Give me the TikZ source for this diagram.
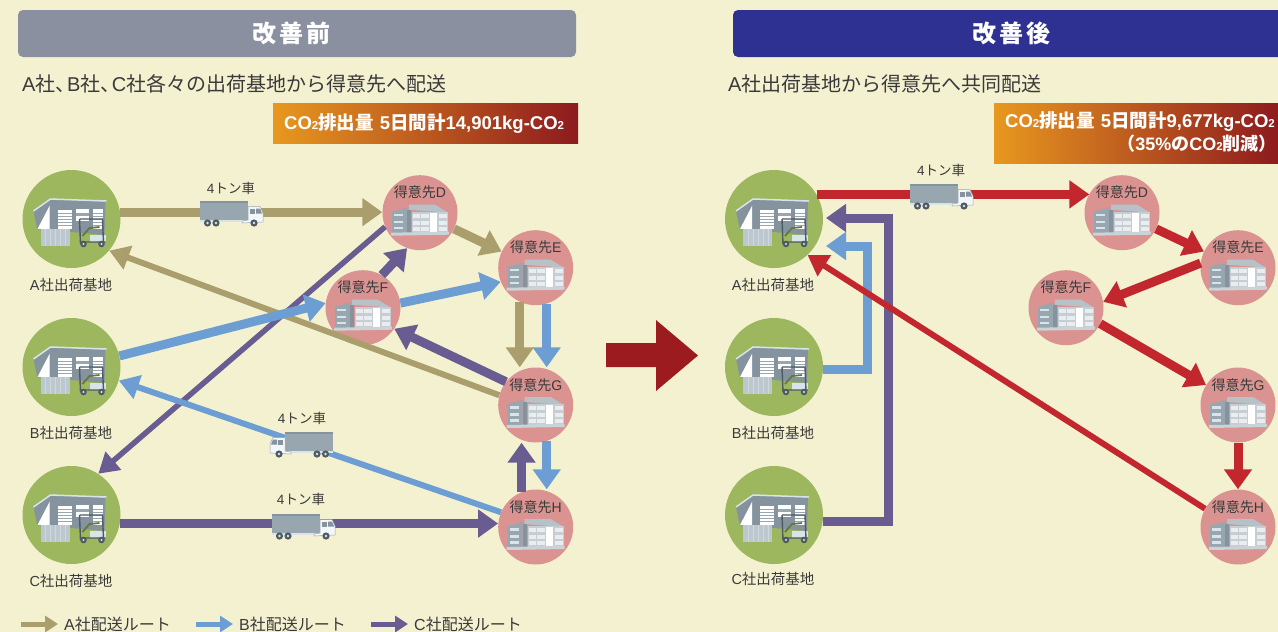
\documentclass[tikz,border=0pt]{standalone}
\usepackage{fontspec}
\setmainfont{Noto Sans CJK JP}
\newfontfamily\latf{Liberation Sans}
\usetikzlibrary{arrows.meta,calc}
\definecolor{bgc}{HTML}{F4F1D1}
\definecolor{tanc}{HTML}{A99E6C}
\definecolor{bluec}{HTML}{6C9DD3}
\definecolor{purc}{HTML}{685C90}
\definecolor{redc}{HTML}{C1272D}
\definecolor{darkred}{HTML}{9B1B1E}
\definecolor{greenc}{HTML}{9DB75E}
\definecolor{pinkc}{HTML}{DA9390}
\definecolor{txtc}{HTML}{3A3A3A}
\definecolor{steel}{HTML}{98A6B0}
\definecolor{steeld}{HTML}{84939E}
\definecolor{pale}{HTML}{D9E4EA}
\definecolor{dk}{HTML}{4E5A64}
\definecolor{orangec}{HTML}{E8981F}
\definecolor{endred}{HTML}{8E1A1E}
\definecolor{hgrey}{HTML}{8A909F}
\definecolor{hblue}{HTML}{2E3191}
\newcommand{\lt}[1]{{\latf #1}}
\newcommand{\cotwo}{{\latf\fontsize{11.5}{12}\selectfont 2}}
\tikzset{
  route/.style={line width=9pt,-{Triangle[length=20pt,width=27pt]}},
  routethin/.style={line width=6pt,-{Triangle[length=20pt,width=24pt]}},
  routeslim/.style={line width=5.5pt,-{Triangle[length=20pt,width=23pt]}},
  routeleg/.style={line width=5pt,-{Triangle[length=13pt,width=16pt]}},
  depot/.style={circle,fill=greenc,minimum size=98pt,inner sep=0pt},
  dest/.style={circle,fill=pinkc,minimum size=75pt,inner sep=0pt},
  lab/.style={text=txtc,font=\fontsize{14.5}{15}\selectfont,inner sep=0pt},
  destlab/.style={text=txtc,font=\fontsize{14}{15}\selectfont,inner sep=0pt},
  trucklab/.style={text=txtc,font=\fontsize{13.5}{14}\selectfont,inner sep=0pt},
  sub/.style={text=txtc,font=\fontsize{20}{21}\selectfont,anchor=west,inner sep=0pt},
  leg/.style={text=txtc,font=\fontsize{16}{17}\selectfont,anchor=west,inner sep=0pt},
  headtxt/.style={text=white,inner sep=0pt,font=\fontsize{24}{26}\bfseries\selectfont},
  co/.style={text=white,font=\fontsize{18.5}{20}\bfseries\selectfont,anchor=west,inner sep=0pt},
  cosmall/.style={text=white,font=\fontsize{18}{20}\bfseries\selectfont,anchor=east,inner sep=0pt},
  warehouse/.pic={
    \fill[steeld] (-22,-20) -- (34,-17) -- (33,16) -- (-22,11) -- cycle;
    \fill[steeld] (-38,-8) -- (-22,-20) -- (-22,11) -- (-34,11) -- cycle;
    \fill[white] (-34,10) -- (-22,-13) -- (-22,10) -- cycle;
    \draw[pale,line width=1.5pt] (-38,-8) -- (-21,-20) -- (35,-18);
    \fill[white] (-14,-9) rectangle (0,10);
    \fill[white] (4,-10) rectangle (17,10);
    \fill[white] (21,-10) rectangle (31,10);
    \foreach \yy in {-6,-3,0,3,6}{
      \draw[steel,line width=.9pt] (-14,\yy) -- (0,\yy);
      \draw[steel,line width=.9pt] (21,\yy) -- (31,\yy);
    }
    \fill[steel] (4,-6) rectangle (17,-3);
    \fill[steeld] (4,2) rectangle (17,10);
    \fill[pale!55!steel] (-31,10) -- (-2,10) -- (-2,27) -- (-31,27) -- cycle;
    \foreach \xx in {-26,-21,-16,-11,-6}{\draw[white!55!steel,line width=.7pt] (\xx,10) -- (\xx,27);}
    \fill[pale] (18,16) rectangle (34,23);
    \draw[dk,line width=1.4pt] (8,0) -- (9,25) (8,0) -- (31,0) -- (32,24) (9,23) -- (34,23);
    \draw[greenc!65!black,line width=1.8pt] (11,17) -- (18,9) -- (28,8);
    \fill[dk] (12,25) circle (3.3pt) (30,25) circle (3.3pt);
    \fill[pale] (12,25) circle (1.1pt) (30,25) circle (1.1pt);
  },
  office/.pic={
    \fill[steel] (-28,-1) -- (-13,-5) -- (-13,20) -- (-28,22) -- cycle;
    \fill[steel!70] (-11,-8) -- (15,-8) -- (28,0) -- (-11,-3) -- cycle;
    \fill[steeld] (-13,-3) -- (-9,-3) -- (-9,20) -- (-13,20) -- cycle;
    \fill[steel!55] (-8,-1) rectangle (28,20);
    \fill[white] (10,0) rectangle (17,19);
    \foreach \yy in {1,8,14}{
      \fill[white!80!steel] (-7,\yy) rectangle (0,\yy+4);
      \fill[white!80!steel] (1,\yy) rectangle (9,\yy+4);
      \fill[white!80!steel] (19,\yy) rectangle (27,\yy+4);
      \fill[pale] (-26,\yy) rectangle (-17,\yy+2.5);
    }
    \fill[steel!50] (-29,20) -- (29,19) -- (29,22) -- (-29,23) -- cycle;
  },
  truck/.pic={
    \fill[steel] (0,0) rectangle (48,20);
    \fill[steeld] (0,0) rectangle (48,1.5);
    \fill[pale] (0,19) rectangle (46,21);
    \fill[white!70!pale,draw=steel,line width=.5pt] (48,5.5) -- (60,5.5) -- (63,12) -- (63,21) -- (42,22) -- (42,20) -- (48,19) -- cycle;
    \fill[steeld] (50,7.5) rectangle (55,12.5);
    \fill[steeld] (56,7.5) -- (60,7.5) -- (62,12.5) -- (56,12.5) -- cycle;
    \foreach \xx in {7.5,16,54}{
      \fill[dk] (\xx,22) circle (3.6pt);
      \fill[pale] (\xx,22) circle (1.3pt);
    }
  }
}
\begin{document}
\begin{tikzpicture}[x=1pt,y=-1pt]
\useasboundingbox (0,0) rectangle (1278,632);
\clip (0,0) rectangle (1278,632);
\fill[bgc] (0,0) rectangle (1278,632);

% headers
\fill[rounded corners=5pt,hgrey] (18,10) rectangle (576,57);
\fill[rounded corners=5pt,hblue] (733,10) rectangle (1300,57);
\node[headtxt] (hl) at (291,33) {改\hspace{3pt}善\hspace{3pt}前};
\node[headtxt] (hr) at (1011,33) {改\hspace{3pt}善\hspace{3pt}後};
\node[sub] (sl) at (22,84) {\lt{A}社、\hspace{-8.5pt}\lt{B}社、\hspace{-8.5pt}\lt{C}社各々の出荷基地から得意先へ配送};
\node[sub] (sr) at (728,84) {\lt{A}社出荷基地から得意先へ共同配送};

% badges
\shade[left color=orangec,right color=endred] (273,103) rectangle (578,143);
\node[co] (bl) at (284,123.5) {\lt{CO}\cotwo{}排出量\hspace{6pt}\lt{5}日間計\lt{14,901kg-CO}\cotwo};
\shade[left color=orangec,right color=endred] (994,103) rectangle (1278,163);
\node[co] (br) at (1005,122) {\lt{CO}\cotwo{}排出量\hspace{6pt}\lt{5}日間計\lt{9,677kg-CO}\cotwo};
\node[cosmall] (br2) at (1277,144) {（\lt{35\%}の\lt{CO}\cotwo{}削減）};

% left nodes
\node[depot] (A) at (71.5,219) {};
\node[depot] (B) at (71.5,367) {};
\node[depot] (C) at (71.5,515) {};
\node[dest] (D) at (420,212.7) {};
\node[dest] (E) at (535.7,267.7) {};
\node[dest] (F) at (363,307.7) {};
\node[dest] (G) at (535.7,405) {};
\node[dest] (H) at (535.7,527) {};

% right nodes
\node[depot] (Ar) at (774,219) {};
\node[depot] (Br) at (774,367) {};
\node[depot] (Cr) at (774,515) {};
\node[dest] (Dr) at (1122,212.7) {};
\node[dest] (Er) at (1238,267.7) {};
\node[dest] (Fr) at (1066,307.7) {};
\node[dest] (Gr) at (1238,405) {};
\node[dest] (Hr) at (1238,527) {};

% left connectors
\draw[routethin,tanc] (G.165) -- (A.-40);
\draw[routeslim,purc] (D.-158) -- (C.57);
\draw[routethin,bluec] (H.157) -- (B.-16);
\draw[route,bluec] (B.13) -- (F.173);
\draw[route,tanc] (A.8) -- (A.8 -| D.west);
\draw[route,tanc] (D) -- (E);
\draw[route,purc] (F.60) -- (D.-110);
\draw[route,bluec] (F.7) -- (E.-158);
\draw[route,tanc] (E.-115) -- (E.-115 |- G.north);
\draw[route,bluec] (E.-73) -- (E.-73 |- G.north);
\draw[route,purc] (G.142) -- (F.-34);
\draw[route,bluec] (G.-73) -- (G.-73 |- H.north);
\draw[route,purc] (H.112) -- (H.112 |- G.south);
\draw[route,purc] (C.-10) -- (C.-10 -| H.176);

% right connectors
\coordinate (bbend) at (867,246);
\coordinate (cbend) at (888,218);
\coordinate (btip) at (826,246);
\coordinate (ctip) at (826,218);
\draw[route,bluec] (Br.-3) -| (bbend) -- (btip);
\draw[route,purc] (Cr.-7) -| (cbend) -- (ctip);
\draw[routethin,redc] (Hr.151) -- (Ar.-47);
\draw[route,redc] (Ar.30) -- (Ar.30 -| Dr.150);
\draw[route,redc] (Dr) -- (Er);
\draw[route,redc] (Er.173) -- (Fr.9);
\draw[route,redc] (Fr.-25) -- (Gr.148);
\draw[route,redc] (Gr) -- (Hr);

% big arrow
\fill[darkred] (606,343) -- (656,343) -- (656,320) -- (698,355.5) -- (656,391) -- (656,367) -- (606,367) -- cycle;

% icons
\foreach \n in {A,B,C,Ar,Br,Cr}{\pic at (\n) {warehouse};}
\foreach \n in {D,E,F,G,H,Dr,Er,Fr,Gr,Hr}{\pic at (\n) {office};}

% trucks
\pic at (200,201) {truck};
\pic[xscale=-1] at (333,432) {truck};
\pic at (272,514) {truck};
\pic at (910,184) {truck};
\node[trucklab] (t1) at (231,188) {\lt{4}トン車};
\node[trucklab] (t2) at (302,418) {\lt{4}トン車};
\node[trucklab] (t3) at (301,499) {\lt{4}トン車};
\node[trucklab] (t4) at (941,170) {\lt{4}トン車};

% labels
\node[lab] (la) at (71,285) {\lt{A}社出荷基地};
\node[lab] (lb) at (71,433) {\lt{B}社出荷基地};
\node[lab] (lc) at (71,581) {\lt{C}社出荷基地};
\node[lab] (lar) at (773,285) {\lt{A}社出荷基地};
\node[lab] (lbr) at (773,433) {\lt{B}社出荷基地};
\node[lab] (lcr) at (773,579) {\lt{C}社出荷基地};
\foreach \n/\t in {D/D,E/E,F/F,G/G,H/H,Dr/D,Er/E,Fr/F,Gr/G,Hr/H}{
  \node[destlab] (txt\n) at ($(\n)+(0,-20)$) {得意先\lt{\t}};
}

% legend
\coordinate (la0) at (21,624); \coordinate (la1) at (58,624);
\coordinate (lb0) at (196,624); \coordinate (lb1) at (233,624);
\coordinate (lc0) at (371,624); \coordinate (lc1) at (408,624);
\draw[routeleg,tanc] (la0) -- (la1);
\draw[routeleg,bluec] (lb0) -- (lb1);
\draw[routeleg,purc] (lc0) -- (lc1);
\node[leg] (lga) at (64,624) {\lt{A}社配送ルート};
\node[leg] (lgb) at (239,624) {\lt{B}社配送ルート};
\node[leg] (lgc) at (414,624) {\lt{C}社配送ルート};
\end{tikzpicture}
\end{document}
